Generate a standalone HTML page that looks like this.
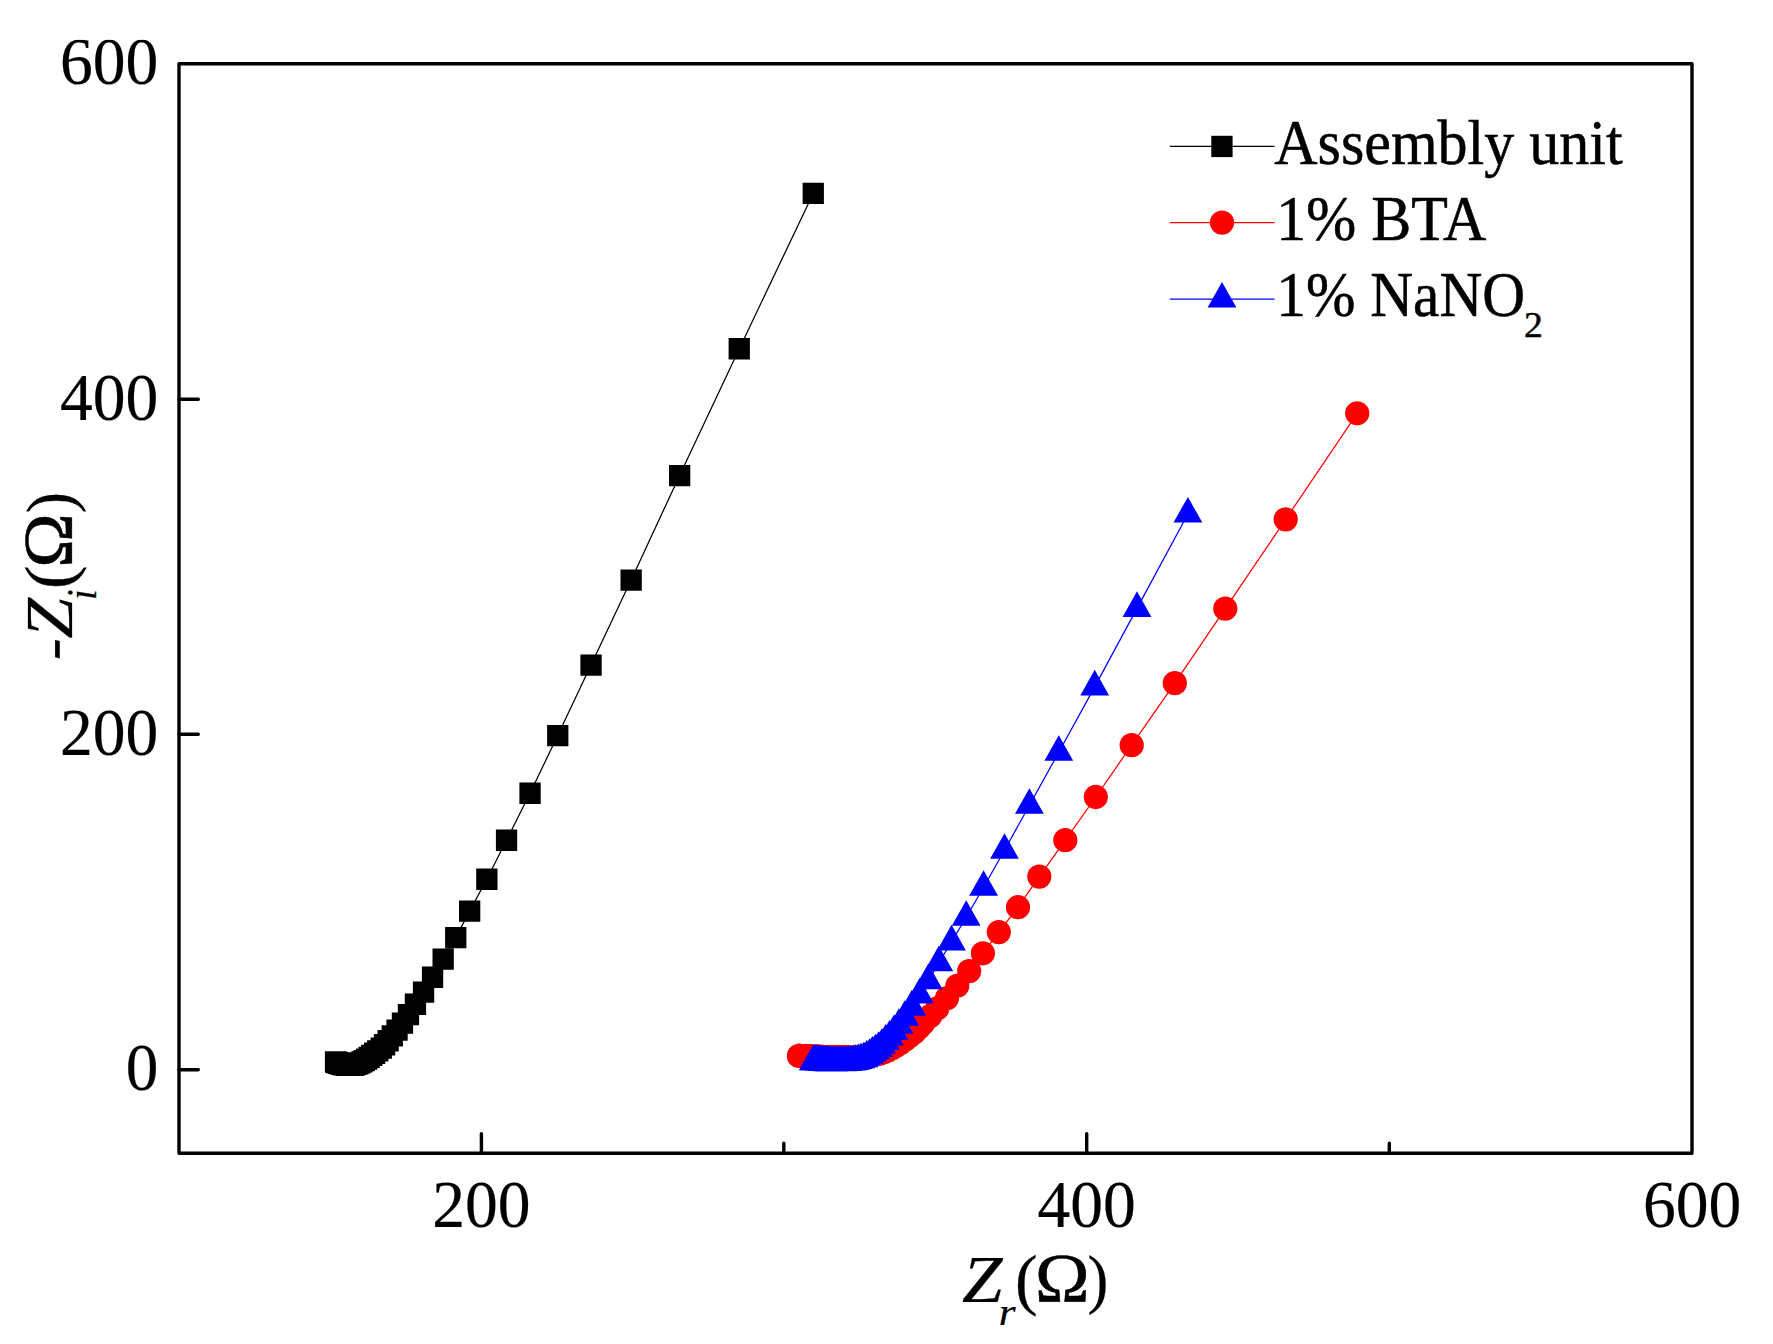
<!DOCTYPE html>
<html lang="en"><head><meta charset="utf-8"><title>Nyquist plot</title>
<style>html,body{margin:0;padding:0;background:#fff}body{width:1773px;height:1344px;overflow:hidden}svg{display:block}</style>
</head><body>
<svg width="1773" height="1344" viewBox="0 0 1773 1344">
<rect width="1773" height="1344" fill="#fff"/>
<defs><clipPath id="ct"><rect x="0" y="39.7" width="178" height="80"/></clipPath></defs>
<polyline points="335.5,1062.0 335.9,1062.2 336.3,1062.3 336.6,1062.4 336.9,1062.5 337.3,1062.6 337.6,1062.7 337.9,1062.8 338.3,1063.0 338.6,1063.1 339.0,1063.3 339.5,1063.4 340.0,1063.6 340.5,1063.8 341.1,1063.9 341.7,1064.1 342.4,1064.3 343.2,1064.5 344.0,1064.7 344.9,1065.0 345.9,1065.2 347.0,1065.3 348.2,1065.4 349.5,1065.5 351.0,1065.4 352.5,1065.3 354.2,1065.0 355.9,1064.5 357.8,1063.8 359.8,1062.9 361.9,1061.9 364.2,1060.7 366.6,1059.2 369.1,1057.5 371.8,1055.4 374.6,1053.2 377.8,1050.8 381.2,1048.2 384.5,1044.8 388.1,1040.8 392.2,1036.0 397.0,1030.0 402.4,1023.0 408.4,1014.6 415.4,1004.2 423.5,992.0 432.5,977.2 443.1,959.0 455.7,937.6 469.6,911.1 486.8,879.2 506.5,840.3 530.0,793.2 557.7,735.6 591.0,665.1 631.1,580.1 679.6,475.5 739.3,348.8 813.2,193.4" fill="none" stroke="#000" stroke-width="1.25"/>
<path d="M324.9 1051.3h21.3v21.3h-21.3zM325.3 1051.5h21.3v21.3h-21.3zM325.6 1051.6h21.3v21.3h-21.3zM325.9 1051.7h21.3v21.3h-21.3zM326.3 1051.8h21.3v21.3h-21.3zM326.6 1052.0h21.3v21.3h-21.3zM326.9 1052.1h21.3v21.3h-21.3zM327.3 1052.2h21.3v21.3h-21.3zM327.6 1052.3h21.3v21.3h-21.3zM328.0 1052.5h21.3v21.3h-21.3zM328.4 1052.6h21.3v21.3h-21.3zM328.8 1052.8h21.3v21.3h-21.3zM329.3 1052.9h21.3v21.3h-21.3zM329.9 1053.1h21.3v21.3h-21.3zM330.5 1053.3h21.3v21.3h-21.3zM331.1 1053.5h21.3v21.3h-21.3zM331.8 1053.7h21.3v21.3h-21.3zM332.5 1053.9h21.3v21.3h-21.3zM333.4 1054.1h21.3v21.3h-21.3zM334.3 1054.3h21.3v21.3h-21.3zM335.3 1054.5h21.3v21.3h-21.3zM336.4 1054.6h21.3v21.3h-21.3zM337.6 1054.7h21.3v21.3h-21.3zM338.9 1054.8h21.3v21.3h-21.3zM340.3 1054.8h21.3v21.3h-21.3zM341.9 1054.6h21.3v21.3h-21.3zM343.5 1054.4h21.3v21.3h-21.3zM345.3 1053.8h21.3v21.3h-21.3zM347.2 1053.2h21.3v21.3h-21.3zM349.2 1052.3h21.3v21.3h-21.3zM351.3 1051.2h21.3v21.3h-21.3zM353.6 1050.0h21.3v21.3h-21.3zM356.0 1048.5h21.3v21.3h-21.3zM358.5 1046.8h21.3v21.3h-21.3zM361.1 1044.8h21.3v21.3h-21.3zM364.0 1042.6h21.3v21.3h-21.3zM367.1 1040.2h21.3v21.3h-21.3zM370.6 1037.5h21.3v21.3h-21.3zM373.9 1034.1h21.3v21.3h-21.3zM377.5 1030.1h21.3v21.3h-21.3zM381.6 1025.3h21.3v21.3h-21.3zM386.4 1019.4h21.3v21.3h-21.3zM391.8 1012.4h21.3v21.3h-21.3zM397.8 1004.0h21.3v21.3h-21.3zM404.8 993.6h21.3v21.3h-21.3zM412.9 981.4h21.3v21.3h-21.3zM421.9 966.6h21.3v21.3h-21.3zM432.5 948.4h21.3v21.3h-21.3zM445.1 927.0h21.3v21.3h-21.3zM459.0 900.5h21.3v21.3h-21.3zM476.2 868.6h21.3v21.3h-21.3zM495.9 829.6h21.3v21.3h-21.3zM519.4 782.6h21.3v21.3h-21.3zM547.1 725.0h21.3v21.3h-21.3zM580.4 654.5h21.3v21.3h-21.3zM620.5 569.5h21.3v21.3h-21.3zM669.0 464.9h21.3v21.3h-21.3zM728.6 338.1h21.3v21.3h-21.3zM802.6 182.8h21.3v21.3h-21.3z" fill="#000"/>
<polyline points="798.9,1055.9 799.4,1055.9 799.8,1055.9 800.1,1056.0 800.5,1056.0 800.8,1056.0 801.2,1056.0 801.5,1056.0 801.9,1056.0 802.3,1056.0 802.6,1056.1 803.0,1056.1 803.4,1056.1 803.9,1056.1 804.3,1056.1 804.8,1056.1 805.3,1056.2 805.8,1056.2 806.4,1056.2 807.0,1056.2 807.6,1056.3 808.2,1056.3 808.9,1056.3 809.6,1056.4 810.3,1056.4 811.1,1056.4 811.9,1056.4 812.8,1056.5 813.7,1056.5 814.6,1056.6 815.6,1056.6 816.7,1056.6 817.7,1056.7 818.9,1056.7 820.1,1056.8 821.4,1056.8 822.7,1056.9 824.1,1057.0 825.5,1057.0 827.1,1057.0 828.7,1057.0 830.4,1057.1 832.2,1057.1 834.0,1057.1 836.0,1057.1 838.0,1057.1 840.2,1057.2 842.5,1057.2 844.8,1057.2 847.3,1057.2 849.9,1057.3 852.7,1057.3 855.6,1057.1 858.6,1056.8 861.8,1056.6 865.1,1056.3 868.6,1056.0 872.2,1055.4 876.0,1054.5 879.9,1053.6 884.0,1052.3 888.0,1050.4 892.2,1048.3 896.4,1045.7 900.8,1042.9 905.2,1039.7 909.7,1036.2 914.3,1032.4 918.7,1027.9 923.2,1023.1 930.1,1016.2 937.3,1008.4 947.0,998.1 957.3,985.8 969.2,971.1 982.9,953.3 998.8,932.1 1018.0,907.2 1039.3,876.6 1065.3,840.2 1095.8,797.0 1131.7,745.1 1174.8,683.2 1225.3,608.6 1285.7,519.3 1357.2,413.3" fill="none" stroke="#f00" stroke-width="1.25"/>
<path d="M786.8 1055.9a12.1 12.1 0 1 0 24.2 0a12.1 12.1 0 1 0 -24.2 0zM787.3 1055.9a12.1 12.1 0 1 0 24.2 0a12.1 12.1 0 1 0 -24.2 0zM787.7 1055.9a12.1 12.1 0 1 0 24.2 0a12.1 12.1 0 1 0 -24.2 0zM788.0 1056.0a12.1 12.1 0 1 0 24.2 0a12.1 12.1 0 1 0 -24.2 0zM788.4 1056.0a12.1 12.1 0 1 0 24.2 0a12.1 12.1 0 1 0 -24.2 0zM788.7 1056.0a12.1 12.1 0 1 0 24.2 0a12.1 12.1 0 1 0 -24.2 0zM789.1 1056.0a12.1 12.1 0 1 0 24.2 0a12.1 12.1 0 1 0 -24.2 0zM789.4 1056.0a12.1 12.1 0 1 0 24.2 0a12.1 12.1 0 1 0 -24.2 0zM789.8 1056.0a12.1 12.1 0 1 0 24.2 0a12.1 12.1 0 1 0 -24.2 0zM790.2 1056.0a12.1 12.1 0 1 0 24.2 0a12.1 12.1 0 1 0 -24.2 0zM790.5 1056.1a12.1 12.1 0 1 0 24.2 0a12.1 12.1 0 1 0 -24.2 0zM790.9 1056.1a12.1 12.1 0 1 0 24.2 0a12.1 12.1 0 1 0 -24.2 0zM791.3 1056.1a12.1 12.1 0 1 0 24.2 0a12.1 12.1 0 1 0 -24.2 0zM791.8 1056.1a12.1 12.1 0 1 0 24.2 0a12.1 12.1 0 1 0 -24.2 0zM792.2 1056.1a12.1 12.1 0 1 0 24.2 0a12.1 12.1 0 1 0 -24.2 0zM792.7 1056.1a12.1 12.1 0 1 0 24.2 0a12.1 12.1 0 1 0 -24.2 0zM793.2 1056.2a12.1 12.1 0 1 0 24.2 0a12.1 12.1 0 1 0 -24.2 0zM793.7 1056.2a12.1 12.1 0 1 0 24.2 0a12.1 12.1 0 1 0 -24.2 0zM794.3 1056.2a12.1 12.1 0 1 0 24.2 0a12.1 12.1 0 1 0 -24.2 0zM794.9 1056.2a12.1 12.1 0 1 0 24.2 0a12.1 12.1 0 1 0 -24.2 0zM795.5 1056.3a12.1 12.1 0 1 0 24.2 0a12.1 12.1 0 1 0 -24.2 0zM796.1 1056.3a12.1 12.1 0 1 0 24.2 0a12.1 12.1 0 1 0 -24.2 0zM796.8 1056.3a12.1 12.1 0 1 0 24.2 0a12.1 12.1 0 1 0 -24.2 0zM797.5 1056.4a12.1 12.1 0 1 0 24.2 0a12.1 12.1 0 1 0 -24.2 0zM798.2 1056.4a12.1 12.1 0 1 0 24.2 0a12.1 12.1 0 1 0 -24.2 0zM799.0 1056.4a12.1 12.1 0 1 0 24.2 0a12.1 12.1 0 1 0 -24.2 0zM799.8 1056.4a12.1 12.1 0 1 0 24.2 0a12.1 12.1 0 1 0 -24.2 0zM800.7 1056.5a12.1 12.1 0 1 0 24.2 0a12.1 12.1 0 1 0 -24.2 0zM801.6 1056.5a12.1 12.1 0 1 0 24.2 0a12.1 12.1 0 1 0 -24.2 0zM802.5 1056.6a12.1 12.1 0 1 0 24.2 0a12.1 12.1 0 1 0 -24.2 0zM803.5 1056.6a12.1 12.1 0 1 0 24.2 0a12.1 12.1 0 1 0 -24.2 0zM804.6 1056.6a12.1 12.1 0 1 0 24.2 0a12.1 12.1 0 1 0 -24.2 0zM805.6 1056.7a12.1 12.1 0 1 0 24.2 0a12.1 12.1 0 1 0 -24.2 0zM806.8 1056.7a12.1 12.1 0 1 0 24.2 0a12.1 12.1 0 1 0 -24.2 0zM808.0 1056.8a12.1 12.1 0 1 0 24.2 0a12.1 12.1 0 1 0 -24.2 0zM809.3 1056.8a12.1 12.1 0 1 0 24.2 0a12.1 12.1 0 1 0 -24.2 0zM810.6 1056.9a12.1 12.1 0 1 0 24.2 0a12.1 12.1 0 1 0 -24.2 0zM812.0 1057.0a12.1 12.1 0 1 0 24.2 0a12.1 12.1 0 1 0 -24.2 0zM813.4 1057.0a12.1 12.1 0 1 0 24.2 0a12.1 12.1 0 1 0 -24.2 0zM815.0 1057.0a12.1 12.1 0 1 0 24.2 0a12.1 12.1 0 1 0 -24.2 0zM816.6 1057.0a12.1 12.1 0 1 0 24.2 0a12.1 12.1 0 1 0 -24.2 0zM818.3 1057.1a12.1 12.1 0 1 0 24.2 0a12.1 12.1 0 1 0 -24.2 0zM820.1 1057.1a12.1 12.1 0 1 0 24.2 0a12.1 12.1 0 1 0 -24.2 0zM821.9 1057.1a12.1 12.1 0 1 0 24.2 0a12.1 12.1 0 1 0 -24.2 0zM823.9 1057.1a12.1 12.1 0 1 0 24.2 0a12.1 12.1 0 1 0 -24.2 0zM825.9 1057.1a12.1 12.1 0 1 0 24.2 0a12.1 12.1 0 1 0 -24.2 0zM828.1 1057.2a12.1 12.1 0 1 0 24.2 0a12.1 12.1 0 1 0 -24.2 0zM830.4 1057.2a12.1 12.1 0 1 0 24.2 0a12.1 12.1 0 1 0 -24.2 0zM832.7 1057.2a12.1 12.1 0 1 0 24.2 0a12.1 12.1 0 1 0 -24.2 0zM835.2 1057.2a12.1 12.1 0 1 0 24.2 0a12.1 12.1 0 1 0 -24.2 0zM837.8 1057.3a12.1 12.1 0 1 0 24.2 0a12.1 12.1 0 1 0 -24.2 0zM840.6 1057.3a12.1 12.1 0 1 0 24.2 0a12.1 12.1 0 1 0 -24.2 0zM843.5 1057.1a12.1 12.1 0 1 0 24.2 0a12.1 12.1 0 1 0 -24.2 0zM846.5 1056.8a12.1 12.1 0 1 0 24.2 0a12.1 12.1 0 1 0 -24.2 0zM849.7 1056.6a12.1 12.1 0 1 0 24.2 0a12.1 12.1 0 1 0 -24.2 0zM853.0 1056.3a12.1 12.1 0 1 0 24.2 0a12.1 12.1 0 1 0 -24.2 0zM856.5 1056.0a12.1 12.1 0 1 0 24.2 0a12.1 12.1 0 1 0 -24.2 0zM860.1 1055.4a12.1 12.1 0 1 0 24.2 0a12.1 12.1 0 1 0 -24.2 0zM863.9 1054.5a12.1 12.1 0 1 0 24.2 0a12.1 12.1 0 1 0 -24.2 0zM867.8 1053.6a12.1 12.1 0 1 0 24.2 0a12.1 12.1 0 1 0 -24.2 0zM871.9 1052.3a12.1 12.1 0 1 0 24.2 0a12.1 12.1 0 1 0 -24.2 0zM875.9 1050.4a12.1 12.1 0 1 0 24.2 0a12.1 12.1 0 1 0 -24.2 0zM880.1 1048.3a12.1 12.1 0 1 0 24.2 0a12.1 12.1 0 1 0 -24.2 0zM884.3 1045.7a12.1 12.1 0 1 0 24.2 0a12.1 12.1 0 1 0 -24.2 0zM888.7 1042.9a12.1 12.1 0 1 0 24.2 0a12.1 12.1 0 1 0 -24.2 0zM893.1 1039.7a12.1 12.1 0 1 0 24.2 0a12.1 12.1 0 1 0 -24.2 0zM897.6 1036.2a12.1 12.1 0 1 0 24.2 0a12.1 12.1 0 1 0 -24.2 0zM902.2 1032.4a12.1 12.1 0 1 0 24.2 0a12.1 12.1 0 1 0 -24.2 0zM906.6 1027.9a12.1 12.1 0 1 0 24.2 0a12.1 12.1 0 1 0 -24.2 0zM911.1 1023.1a12.1 12.1 0 1 0 24.2 0a12.1 12.1 0 1 0 -24.2 0zM918.0 1016.2a12.1 12.1 0 1 0 24.2 0a12.1 12.1 0 1 0 -24.2 0zM925.2 1008.4a12.1 12.1 0 1 0 24.2 0a12.1 12.1 0 1 0 -24.2 0zM934.9 998.1a12.1 12.1 0 1 0 24.2 0a12.1 12.1 0 1 0 -24.2 0zM945.2 985.8a12.1 12.1 0 1 0 24.2 0a12.1 12.1 0 1 0 -24.2 0zM957.1 971.1a12.1 12.1 0 1 0 24.2 0a12.1 12.1 0 1 0 -24.2 0zM970.8 953.3a12.1 12.1 0 1 0 24.2 0a12.1 12.1 0 1 0 -24.2 0zM986.7 932.1a12.1 12.1 0 1 0 24.2 0a12.1 12.1 0 1 0 -24.2 0zM1005.9 907.2a12.1 12.1 0 1 0 24.2 0a12.1 12.1 0 1 0 -24.2 0zM1027.2 876.6a12.1 12.1 0 1 0 24.2 0a12.1 12.1 0 1 0 -24.2 0zM1053.2 840.2a12.1 12.1 0 1 0 24.2 0a12.1 12.1 0 1 0 -24.2 0zM1083.7 797.0a12.1 12.1 0 1 0 24.2 0a12.1 12.1 0 1 0 -24.2 0zM1119.6 745.1a12.1 12.1 0 1 0 24.2 0a12.1 12.1 0 1 0 -24.2 0zM1162.7 683.2a12.1 12.1 0 1 0 24.2 0a12.1 12.1 0 1 0 -24.2 0zM1213.2 608.6a12.1 12.1 0 1 0 24.2 0a12.1 12.1 0 1 0 -24.2 0zM1273.6 519.3a12.1 12.1 0 1 0 24.2 0a12.1 12.1 0 1 0 -24.2 0zM1345.1 413.3a12.1 12.1 0 1 0 24.2 0a12.1 12.1 0 1 0 -24.2 0z" fill="#f00"/>
<polyline points="813.2,1061.7 813.5,1061.7 813.9,1061.7 814.2,1061.8 814.6,1061.8 814.9,1061.8 815.3,1061.8 815.6,1061.9 816.0,1061.9 816.3,1061.9 816.7,1061.9 817.0,1062.0 817.4,1062.0 817.7,1062.0 818.1,1062.1 818.5,1062.1 819.0,1062.1 819.4,1062.1 819.9,1062.2 820.5,1062.2 821.0,1062.3 821.6,1062.3 822.2,1062.3 822.9,1062.4 823.6,1062.4 824.3,1062.5 825.1,1062.5 825.9,1062.6 826.8,1062.7 827.7,1062.7 828.7,1062.8 829.8,1062.9 830.9,1062.9 832.1,1062.9 833.3,1062.8 834.7,1062.8 836.1,1062.8 837.6,1062.7 839.2,1062.7 840.8,1062.7 842.6,1062.6 844.5,1062.6 846.5,1062.4 848.6,1062.2 850.9,1061.9 853.2,1061.7 855.7,1061.2 858.3,1060.4 861.0,1059.7 863.9,1058.6 866.7,1057.1 869.5,1055.3 872.4,1053.1 875.5,1050.8 878.5,1048.4 881.8,1045.2 885.6,1041.2 889.5,1037.1 894.0,1031.5 898.9,1025.3 904.8,1017.3 911.7,1007.2 919.5,995.0 928.2,980.8 938.8,962.8 951.5,941.9 966.2,917.3 983.6,887.3 1004.5,850.3 1029.4,805.3 1058.8,752.3 1094.7,686.9 1137.0,608.4 1187.9,514.0" fill="none" stroke="#00f" stroke-width="1.25"/>
<path d="M813.2 1044.6l14.4 25.6h-28.8zM813.5 1044.7l14.4 25.6h-28.8zM813.9 1044.7l14.4 25.6h-28.8zM814.2 1044.7l14.4 25.6h-28.8zM814.6 1044.7l14.4 25.6h-28.8zM814.9 1044.8l14.4 25.6h-28.8zM815.3 1044.8l14.4 25.6h-28.8zM815.6 1044.8l14.4 25.6h-28.8zM816.0 1044.8l14.4 25.6h-28.8zM816.3 1044.9l14.4 25.6h-28.8zM816.7 1044.9l14.4 25.6h-28.8zM817.0 1044.9l14.4 25.6h-28.8zM817.4 1044.9l14.4 25.6h-28.8zM817.7 1045.0l14.4 25.6h-28.8zM818.1 1045.0l14.4 25.6h-28.8zM818.5 1045.0l14.4 25.6h-28.8zM819.0 1045.0l14.4 25.6h-28.8zM819.4 1045.1l14.4 25.6h-28.8zM819.9 1045.1l14.4 25.6h-28.8zM820.5 1045.2l14.4 25.6h-28.8zM821.0 1045.2l14.4 25.6h-28.8zM821.6 1045.2l14.4 25.6h-28.8zM822.2 1045.3l14.4 25.6h-28.8zM822.9 1045.3l14.4 25.6h-28.8zM823.6 1045.4l14.4 25.6h-28.8zM824.3 1045.4l14.4 25.6h-28.8zM825.1 1045.5l14.4 25.6h-28.8zM825.9 1045.5l14.4 25.6h-28.8zM826.8 1045.6l14.4 25.6h-28.8zM827.7 1045.7l14.4 25.6h-28.8zM828.7 1045.7l14.4 25.6h-28.8zM829.8 1045.8l14.4 25.6h-28.8zM830.9 1045.8l14.4 25.6h-28.8zM832.1 1045.8l14.4 25.6h-28.8zM833.3 1045.8l14.4 25.6h-28.8zM834.7 1045.7l14.4 25.6h-28.8zM836.1 1045.7l14.4 25.6h-28.8zM837.6 1045.7l14.4 25.6h-28.8zM839.2 1045.7l14.4 25.6h-28.8zM840.8 1045.6l14.4 25.6h-28.8zM842.6 1045.6l14.4 25.6h-28.8zM844.5 1045.5l14.4 25.6h-28.8zM846.5 1045.4l14.4 25.6h-28.8zM848.6 1045.1l14.4 25.6h-28.8zM850.9 1044.9l14.4 25.6h-28.8zM853.2 1044.6l14.4 25.6h-28.8zM855.7 1044.1l14.4 25.6h-28.8zM858.3 1043.4l14.4 25.6h-28.8zM861.0 1042.6l14.4 25.6h-28.8zM863.9 1041.6l14.4 25.6h-28.8zM866.7 1040.0l14.4 25.6h-28.8zM869.5 1038.2l14.4 25.6h-28.8zM872.4 1036.0l14.4 25.6h-28.8zM875.5 1033.7l14.4 25.6h-28.8zM878.5 1031.3l14.4 25.6h-28.8zM881.8 1028.2l14.4 25.6h-28.8zM885.6 1024.1l14.4 25.6h-28.8zM889.5 1020.0l14.4 25.6h-28.8zM894.0 1014.4l14.4 25.6h-28.8zM898.9 1008.2l14.4 25.6h-28.8zM904.8 1000.2l14.4 25.6h-28.8zM911.7 990.1l14.4 25.6h-28.8zM919.5 977.9l14.4 25.6h-28.8zM928.2 963.7l14.4 25.6h-28.8zM938.8 945.7l14.4 25.6h-28.8zM951.5 924.8l14.4 25.6h-28.8zM966.2 900.2l14.4 25.6h-28.8zM983.6 870.2l14.4 25.6h-28.8zM1004.5 833.2l14.4 25.6h-28.8zM1029.4 788.2l14.4 25.6h-28.8zM1058.8 735.2l14.4 25.6h-28.8zM1094.7 669.8l14.4 25.6h-28.8zM1137.0 591.3l14.4 25.6h-28.8zM1187.9 496.9l14.4 25.6h-28.8z" fill="#00f"/>
<rect x="179.0" y="63.8" width="1513.0" height="1089.4" fill="none" stroke="#000" stroke-width="3.4" stroke-linejoin="round"/>
<path d="M179.0 399.2h19.3M179.0 734.3h19.3M179.0 1069.7h19.3M481.4 1153.2v-19.5M1086.7 1153.2v-19.5M783.8 1153.2v-10M1389.3 1153.2v-10" stroke="#000" stroke-width="3.4" stroke-linecap="round" fill="none"/>
<g font-family="'Liberation Serif','Times New Roman',Times,serif" fill="#000" stroke="#000" stroke-width="0.7" vector-effect="non-scaling-stroke">
<g clip-path="url(#ct)"><text transform="translate(59.97 84.17) scale(0.6556 0.6847)" font-size="100" stroke="#000" stroke-width="0.2" vector-effect="non-scaling-stroke">600</text></g>
<text transform="translate(59.96 419.57) scale(0.6556 0.6847)" font-size="100" stroke="#000" stroke-width="0.2" vector-effect="non-scaling-stroke">400</text>
<text transform="translate(59.97 754.67) scale(0.6556 0.6847)" font-size="100" stroke="#000" stroke-width="0.2" vector-effect="non-scaling-stroke">200</text>
<text transform="translate(125.68 1090.07) scale(0.6523 0.6847)" font-size="100" stroke="#000" stroke-width="0.2" vector-effect="non-scaling-stroke">0</text>
<text transform="translate(432.23 1227.12) scale(0.6556 0.6847)" font-size="100" stroke="#000" stroke-width="0.2" vector-effect="non-scaling-stroke">200</text>
<text transform="translate(1037.53 1227.12) scale(0.6556 0.6847)" font-size="100" stroke="#000" stroke-width="0.2" vector-effect="non-scaling-stroke">400</text>
<text transform="translate(1643.03 1227.12) scale(0.6556 0.6847)" font-size="100" stroke="#000" stroke-width="0.2" vector-effect="non-scaling-stroke">600</text>
<text transform="translate(1274.25 163.90) scale(0.6002 0.6420)" font-size="100" stroke="#000" stroke-width="0.5" vector-effect="non-scaling-stroke">Assembly unit</text>
<text transform="translate(1276.25 240.10) scale(0.6003 0.6420)" font-size="100" stroke="#000" stroke-width="0.5" vector-effect="non-scaling-stroke">1% BTA</text>
<text transform="translate(1276.31 316.20) scale(0.5936 0.6420)" font-size="100" stroke="#000" stroke-width="0.5" vector-effect="non-scaling-stroke">1% NaNO</text>
<text transform="translate(1523.91 336.75) scale(0.3775 0.3573)" font-size="100" stroke="#000" stroke-width="0.5" vector-effect="non-scaling-stroke">2</text>
<g transform="translate(962.9 1301.8)"><text transform="translate(-0.85 -0.12) scale(0.7282 0.6815)" font-size="100" font-style="italic" stroke="#000" stroke-width="0.25" vector-effect="non-scaling-stroke">Z</text><text transform="translate(35.79 23.38) scale(0.4329 0.3819)" font-size="100" font-style="italic" stroke="#000" stroke-width="0.25" vector-effect="non-scaling-stroke">r</text><text transform="translate(52.18 0.08) scale(0.6799 0.6758)" font-size="100" stroke="#000" stroke-width="0.25" vector-effect="non-scaling-stroke">(</text><text transform="translate(72.18 -0.30) scale(0.7351 0.6980)" font-size="100" stroke="#000" stroke-width="0.6" vector-effect="non-scaling-stroke">Ω</text><text transform="translate(124.64 -0.40) scale(0.6253 0.6559)" font-size="100" stroke="#000" stroke-width="0.25" vector-effect="non-scaling-stroke">)</text></g>
<g transform="translate(72.3 637.9) rotate(-90)"><text transform="translate(-25.91 -0.04) skewX(-14) scale(0.6558 0.6196)" font-size="100" font-style="italic" stroke="#000" stroke-width="0.25" vector-effect="non-scaling-stroke">-</text><text transform="translate(-0.85 -0.12) scale(0.7336 0.6754)" font-size="100" font-style="italic" stroke="#000" stroke-width="0.25" vector-effect="non-scaling-stroke">Z</text><text transform="translate(37.96 23.88) scale(0.3816 0.4123)" font-size="100" font-style="italic" stroke="#000" stroke-width="0.25" vector-effect="non-scaling-stroke">i</text><text transform="translate(48.73 0.12) scale(0.7149 0.6836)" font-size="100" stroke="#000" stroke-width="0.25" vector-effect="non-scaling-stroke">(</text><text transform="translate(70.09 -0.10) scale(0.7335 0.7025)" font-size="100" stroke="#000" stroke-width="0.6" vector-effect="non-scaling-stroke">Ω</text><text transform="translate(124.70 -0.23) scale(0.6370 0.6526)" font-size="100" stroke="#000" stroke-width="0.25" vector-effect="non-scaling-stroke">)</text></g>
</g>
<path d="M1169.8 146.3H1274.5" stroke="#000" stroke-width="1.25"/>
<path d="M1211.3 135.8h21.3v21.3h-21.3z" fill="#000"/>
<path d="M1169.8 222.5H1274.5" stroke="#f00" stroke-width="1.25"/>
<path d="M1209.9 222.6a12.1 12.1 0 1 0 24.2 0a12.1 12.1 0 1 0 -24.2 0z" fill="#f00"/>
<path d="M1169.8 299.1H1274.5" stroke="#00f" stroke-width="1.25"/>
<path d="M1222.0 282.0l14.4 25.6h-28.8z" fill="#00f"/>
</svg>
</body></html>
